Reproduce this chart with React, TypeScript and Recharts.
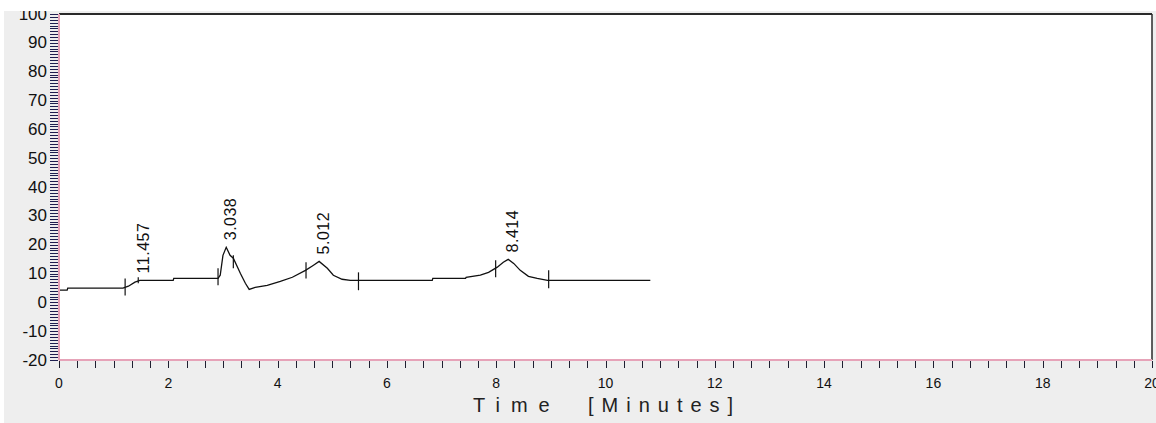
import {
  ComposedChart,
  Line,
  Scatter,
  XAxis,
  YAxis,
  CartesianGrid,
  ReferenceLine,
} from "recharts"

// detector trace: time in minutes, signal
const TIME = [
  0, 0.15, 0.16, 1.17, 1.27, 1.39, 1.48, 2.09, 2.1, 2.91, 2.95, 3.0, 3.06, 3.13, 3.19,
  3.32, 3.41, 3.48, 3.59, 3.81, 4.05, 4.27, 4.51, 4.65, 4.76, 4.91, 5.02, 5.18, 5.33,
  6.83, 6.84, 7.44, 7.45, 7.71, 7.86, 8.02, 8.13, 8.22, 8.32, 8.44, 8.59, 8.75, 8.94,
  10.82,
]
const SIGNAL = [
  4.2, 4.2, 4.9, 4.9, 5.6, 7.0, 7.6, 7.6, 8.3, 8.3, 9.4, 16.3, 19.1, 16.3, 15.3,
  10.0, 6.6, 4.5, 5.2, 5.9, 7.3, 8.7, 11.1, 12.8, 14.2, 11.8, 9.4, 8.0, 7.6,
  7.6, 8.3, 8.3, 8.7, 9.4, 10.4, 12.2, 13.9, 14.9, 13.5, 11.1, 9.0, 8.3, 7.6,
  7.6,
]

// peak apex labels
const PEAK_TIME = [1.48, 3.06, 4.76, 8.22]
const PEAK_SIGNAL = [7.6, 19.1, 14.2, 14.9]
const PEAK_LABEL = ["11.457", "3.038", "5.012", "8.414"]

// integration start/stop marks (time, low, high)
const MARK_TIME = [1.21, 1.45, 2.91, 3.19, 4.52, 5.48, 7.99, 8.96]
const MARK_LOW = [2.4, 6.6, 5.9, 11.8, 8.3, 4.2, 8.7, 4.9]
const MARK_HIGH = [8.3, 8.7, 11.8, 16.3, 13.9, 10.4, 14.6, 11.1]

const X_LABELS = [0, 2, 4, 6, 8, 10, 12, 14, 16, 18, 20]
const Y_LABELS = [-20, -10, 0, 10, 20, 30, 40, 50, 60, 70, 80, 90, 100]

const trace = TIME.map((t, i) => ({ t, v: SIGNAL[i] }))
const peaks = PEAK_TIME.map((t, i) => ({ t, v: PEAK_SIGNAL[i], label: PEAK_LABEL[i] }))
const marks = MARK_TIME.map((t, i) => ({ t, lo: MARK_LOW[i], hi: MARK_HIGH[i] }))

const xTicks = Array.from({ length: 61 }, (_, i) => i / 3)
const yTicks = Array.from({ length: 121 }, (_, i) => i - 20)

const FONT = '"Liberation Sans", Arial, sans-serif'

const YTick = ({ x, y, payload }: any) => {
  const major = Y_LABELS.includes(payload.value)
  const yy = Math.round(y) + 0.5
  return (
    <g>
      <line x1={x - 9} x2={x - 1} y1={yy} y2={yy} stroke="#1f1f50" strokeWidth={1} shapeRendering="crispEdges" />
      {major && (
        <text x={x - 12} y={y} textAnchor="end" dominantBaseline="central" fontSize={17} fontFamily={FONT} fill="#111">
          {payload.value}
        </text>
      )}
    </g>
  )
}

const XTick = ({ x, y, payload }: any) => {
  const major = X_LABELS.some((v) => Math.abs(v - payload.value) < 1e-6)
  const xx = Math.round(x) + 0.5
  return (
    <g>
      <line x1={xx} x2={xx} y1={y + 1} y2={y + 8} stroke="#1f1f30" strokeWidth={1} shapeRendering="crispEdges" />
      {major && (
        <text x={x} y={y + 23} textAnchor="middle" dominantBaseline="central" fontSize={14} fontFamily={FONT} fill="#111">
          {Math.round(payload.value)}
        </text>
      )}
    </g>
  )
}

const AxisTitle = ({ viewBox }: any) => {
  const { x, y } = viewBox
  return (
    <g fontFamily={FONT} fontSize={20} fill="#222">
      <text x={x + 414} y={y + 45} dominantBaseline="central" letterSpacing={11}>Time</text>
      <text x={x + 529} y={y + 45} dominantBaseline="central" letterSpacing={8}>[Minutes]</text>
    </g>
  )
}

const PeakLabel = ({ cx, cy, payload }: any) => (
  <text
    x={cx + 4}
    y={cy - 7}
    transform={`rotate(-90 ${cx + 4} ${cy - 7})`}
    textAnchor="start"
    dominantBaseline="central"
    fontSize={16}
    fontFamily={FONT}
    letterSpacing={0.5}
    fill="#111"
  >
    {payload.label}
  </text>
)

export default function App() {
  return (
    <div style={{ position: "absolute", left: 0, top: 0, width: 1156, height: 423, background: "#fff", overflow: "hidden" }}>
      <div style={{ position: "absolute", left: 4, top: 11, right: 0, bottom: 0, background: "#eeeeee", overflow: "hidden" }}>
        <div style={{ position: "absolute", left: -4, top: -11 }}>
          <ComposedChart width={1156} height={423} data={trace} margin={{ top: 14, right: 4, bottom: 13, left: 0 }}>
            <CartesianGrid horizontal={false} vertical={false} fill="#ffffff" />
            <XAxis
              dataKey="t"
              type="number"
              domain={[0, 20]}
              ticks={xTicks}
              interval={0}
              tick={<XTick />}
              tickLine={false}
              tickSize={0}
              tickMargin={0}
              height={50}
              axisLine={{ stroke: "#e6a3b8", strokeWidth: 2 }}
              allowDataOverflow
              label={<AxisTitle />}
            />
            <YAxis
              type="number"
              domain={[-20, 100]}
              ticks={yTicks}
              interval={0}
              tick={<YTick />}
              tickLine={false}
              tickSize={0}
              tickMargin={0}
              width={59}
              axisLine={{ stroke: "#e6a3b8", strokeWidth: 2 }}
              allowDataOverflow
            />
            <ReferenceLine y={100} stroke="#2a2a2a" strokeWidth={2} />
            <ReferenceLine x={20} stroke="#2a2a2a" strokeWidth={1.5} />
            {marks.map((m, i) => (
              <ReferenceLine
                key={i}
                segment={[
                  { x: m.t, y: m.lo },
                  { x: m.t, y: m.hi },
                ]}
                stroke="#111"
                strokeWidth={1.2}
              />
            ))}
            <Line
              dataKey="v"
              type="linear"
              stroke="#111"
              strokeWidth={1.3}
              dot={false}
              isAnimationActive={false}
            />
            <Scatter data={peaks} dataKey="v" shape={<PeakLabel />} isAnimationActive={false} />
          </ComposedChart>
        </div>
      </div>
    </div>
  )
}
